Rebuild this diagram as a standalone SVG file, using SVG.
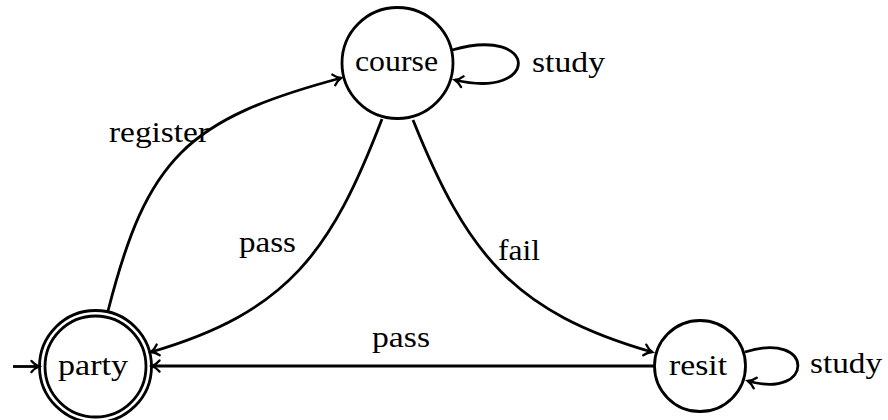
<svg xmlns="http://www.w3.org/2000/svg" width="888" height="420" viewBox="0 0 888 420">
<style>
.st{fill:none;stroke:#000;stroke-width:2.8}
.ed{fill:none;stroke:#000;stroke-width:2.8;marker-end:url(#ar)}
.tx{font-family:'Liberation Serif','DejaVu Serif','Times New Roman',serif;font-size:30px;fill:#000}
</style>
<defs>
<marker id="ar" markerUnits="userSpaceOnUse" viewBox="-10 -8 12 16" markerWidth="12" markerHeight="16" refX="0" refY="0" orient="auto" overflow="visible">
<path d="M -7.5 -5.5 C -5 -2.5 -2 -0.8 0 0 C -2 0.8 -5 2.5 -7.5 5.5" fill="none" stroke="#000" stroke-width="2.4" stroke-linecap="round"/>
</marker>
</defs>
<rect width="888" height="420" fill="#fff"/>
<g id="connectors">
<path class="ed" d="M 13 366.5 L 39 366.5"/>
<path class="ed" d="M 108 311 C 147 158 186.4 119.4 341 78"/>
<path class="ed" d="M 382 119 C 331 252 288 312 151 352"/>
<path class="ed" d="M 413 120 C 467 254 513 312 652 352"/>
<path class="ed" d="M 654.5 366 L 152 366"/>
<path class="ed" d="M 452 50 C 540 25 540 100 455 80"/>
<path class="ed" d="M 745 352 C 815 330 815 400 748 381"/>
<text class="tx" x="109" y="142" textLength="100" lengthAdjust="spacingAndGlyphs">register</text>
<text class="tx" x="239" y="252" textLength="57" lengthAdjust="spacingAndGlyphs">pass</text>
<text class="tx" x="498" y="260" textLength="42" lengthAdjust="spacingAndGlyphs">fail</text>
<text class="tx" x="372" y="347" textLength="58" lengthAdjust="spacingAndGlyphs">pass</text>
<text class="tx" x="532" y="72" textLength="73" lengthAdjust="spacingAndGlyphs">study</text>
<text class="tx" x="810" y="373" textLength="72" lengthAdjust="spacingAndGlyphs">study</text>
</g>
<g id="course">
<circle class="st" cx="397.5" cy="63" r="55.5"/>
<text class="tx" x="355" y="71" textLength="83" lengthAdjust="spacingAndGlyphs">course</text>
</g>
<g id="party">
<circle class="st" cx="95.5" cy="366.5" r="56"/>
<circle class="st" cx="95.5" cy="366.5" r="50.5"/>
<text class="tx" x="58" y="375" textLength="70" lengthAdjust="spacingAndGlyphs">party</text>
</g>
<g id="resit">
<circle class="st" cx="700" cy="366" r="45.5"/>
<text class="tx" x="669" y="375" textLength="58" lengthAdjust="spacingAndGlyphs">resit</text>
</g>
</svg>
